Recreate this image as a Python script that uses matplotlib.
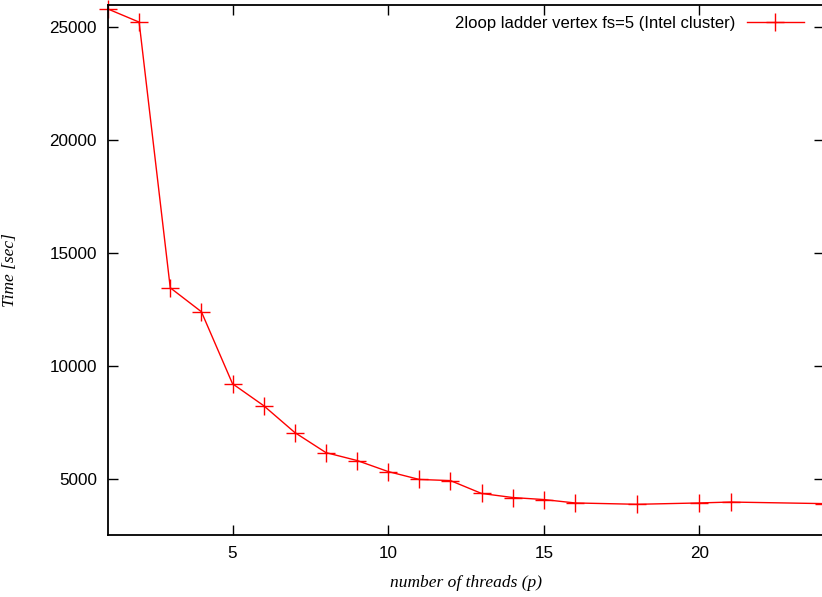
import matplotlib
matplotlib.use("Agg")
import matplotlib.pyplot as plt

threads = [1, 2, 3, 4, 5, 6, 7, 8, 9, 10, 11, 12, 13, 14, 15, 16, 18, 20, 21, 24]
times = [25800, 25220, 13450, 12390, 9200, 8230, 7040, 6150, 5800, 5310,
         4960, 4910, 4340, 4160, 4070, 3920, 3860, 3920, 3960, 3890]
series_label = "2loop ladder vertex fs=5 (Intel cluster)"
xticks = [5, 10, 15, 20]
yticks = [5000, 10000, 15000, 20000, 25000]

plt.rcParams['font.family'] = ['Liberation Sans', 'DejaVu Sans']

fig = plt.figure(figsize=(8.22, 5.97), dpi=100)
ax = fig.add_axes([108/822, 62/597, 716/822, 530.5/597])

ax.plot(threads, times, color='#ff0000', lw=1.0, marker='+', markersize=13,
        markeredgewidth=1.0, label=series_label, clip_on=False)

ax.set_xlim(1, 24)
ax.set_ylim(2500, 26000)
ax.set_xticks(xticks)
ax.set_yticks(yticks)
ax.tick_params(direction='in', length=7, width=1, labelsize=12.3, top=True, right=True, pad=8)
for s in ax.spines.values():
    s.set_linewidth(1.3)

ax.set_xlabel("number of threads (p)", family=['Liberation Serif'], style='italic', fontsize=12.5, labelpad=10)
ax.set_ylabel("Time [sec]", family=['Liberation Serif'], style='italic', fontsize=12.5)
ax.yaxis.set_label_coords(-0.126, 0.5)

leg = ax.legend(loc='upper right', frameon=False, markerfirst=False, fontsize=12.0,
                handlelength=3.4, handletextpad=0.7, borderaxespad=0.3, bbox_to_anchor=(0.988, 1.0))

fig.savefig("out.png", dpi=100)
